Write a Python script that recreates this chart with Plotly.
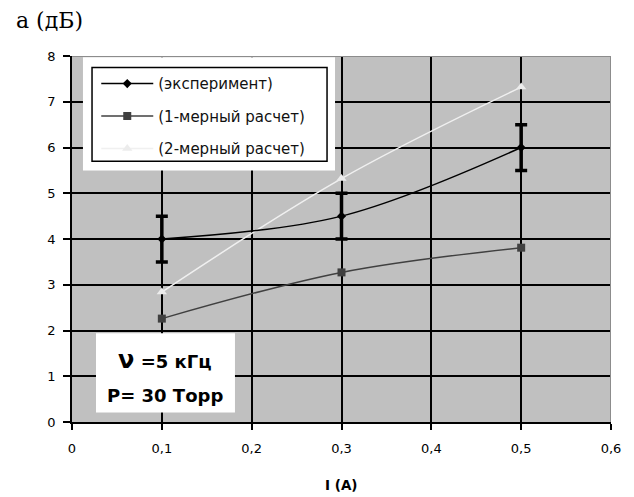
import plotly.graph_objects as go

# ---- data ----
current = [0.1, 0.3, 0.5]
exp_vals = [4.0, 4.5, 6.0]
exp_err = [0.5, 0.5, 0.5]
calc1_vals = [2.26, 3.27, 3.81]
calc2_vals = [2.84, 5.32, 7.32]
series_names = ["(эксперимент)", "(1-мерный расчет)", "(2-мерный расчет)"]
x_ticks = [0, 0.1, 0.2, 0.3, 0.4, 0.5, 0.6]
x_tick_labels = ["0", "0,1", "0,2", "0,3", "0,4", "0,5", "0,6"]
y_ticks = [0, 1, 2, 3, 4, 5, 6, 7, 8]

FONT = "DejaVu Sans, Arial, sans-serif"

fig = go.Figure()

fig.add_trace(go.Scatter(
    x=current, y=calc2_vals, name=series_names[2], legendgroup="c", legendrank=3,
    mode="lines+markers", line=dict(color="#f0f0f0", width=1.5, shape="spline"),
    marker=dict(symbol="triangle-up", size=9, color="#ececec"),
))
fig.add_trace(go.Scatter(
    x=current, y=calc1_vals, name=series_names[1], legendgroup="b", legendrank=2,
    mode="lines+markers", line=dict(color="#404040", width=1.5, shape="spline"),
    marker=dict(symbol="square", size=8, color="#404040"),
))
fig.add_trace(go.Scatter(
    x=current, y=exp_vals, name=series_names[0], legendgroup="a", legendrank=1,
    mode="lines+markers", line=dict(color="#000000", width=1.5, shape="spline"),
    marker=dict(symbol="diamond", size=7, color="#000000"),
    error_y=dict(type="data", array=exp_err, visible=True, color="#000000",
                 thickness=3.5, width=6),
))

shapes = [
    # white area behind legend
    dict(type="rect", xref="x", yref="y", x0=0.0122, x1=0.2928, y0=5.50, y1=7.97,
         fillcolor="white", line=dict(width=0), layer="above"),
    # legend frame
    dict(type="rect", xref="x", yref="y", x0=0.0223, x1=0.2839, y0=5.70, y1=7.75,
         fillcolor="rgba(0,0,0,0)", line=dict(color="black", width=1.5), layer="above"),
    # annotation box
    dict(type="rect", xref="x", yref="y", x0=0.0267, x1=0.1814, y0=0.21, y1=1.94,
         fillcolor="white", line=dict(width=0), layer="above"),
    # gray frame top & right
    dict(type="line", xref="x", yref="y", x0=0, x1=0.6, y0=8, y1=8,
         line=dict(color="#8c8c8c", width=2), layer="above"),
    dict(type="line", xref="x", yref="y", x0=0.6, x1=0.6, y0=0, y1=8,
         line=dict(color="#8c8c8c", width=2), layer="above"),
]

annotations = [
    dict(text="a (дБ)", xref="paper", yref="paper", x=-0.108, y=1.0975,
         xanchor="left", yanchor="middle", showarrow=False,
         font=dict(family="DejaVu Serif, Liberation Serif, serif", size=22, color="black")),
    dict(text="<b>I (A)</b>", xref="paper", yref="paper", x=0.5, y=-0.172,
         xanchor="center", yanchor="middle", showarrow=False,
         font=dict(family=FONT, size=13.5, color="black")),
    dict(text="<b><span style='font-size:24px'>ν</span> =5 кГц</b>", xref="x", yref="y",
         x=0.104, y=1.35, xanchor="center", yanchor="middle", showarrow=False,
         font=dict(family=FONT, size=18, color="black")),
    dict(text="<b>P= 30 Торр</b>", xref="x", yref="y",
         x=0.104, y=0.58, xanchor="center", yanchor="middle", showarrow=False,
         font=dict(family=FONT, size=18, color="black")),
]

fig.update_layout(
    width=626, height=489,
    margin=dict(l=64, r=23, t=48, b=75),
    paper_bgcolor="white", plot_bgcolor="#c0c0c0",
    font=dict(family=FONT, size=13, color="black"),
    showlegend=True,
    legend=dict(x=0.045, y=0.969, xanchor="left", yanchor="top",
                bgcolor="rgba(0,0,0,0)", borderwidth=0,
                font=dict(family=FONT, size=15, color="#111111"),
                tracegroupgap=10, itemwidth=52, traceorder="grouped"),
    shapes=shapes, annotations=annotations,
)
fig.update_xaxes(range=[0, 0.6], tickvals=x_ticks, ticktext=x_tick_labels,
                 showgrid=True, gridcolor="black", gridwidth=1.5,
                 showline=True, linecolor="black", linewidth=1.5,
                 ticks="outside", ticklen=6, tickwidth=1.5, tickcolor="black",
                 zeroline=False, ticklabelstandoff=8)
fig.update_yaxes(range=[0, 8], tickvals=y_ticks,
                 showgrid=True, gridcolor="black", gridwidth=1.5,
                 showline=True, linecolor="black", linewidth=1.5,
                 ticks="outside", ticklen=7, tickwidth=1.5, tickcolor="black",
                 zeroline=False, ticklabelstandoff=5)

fig.write_html("out.html")
